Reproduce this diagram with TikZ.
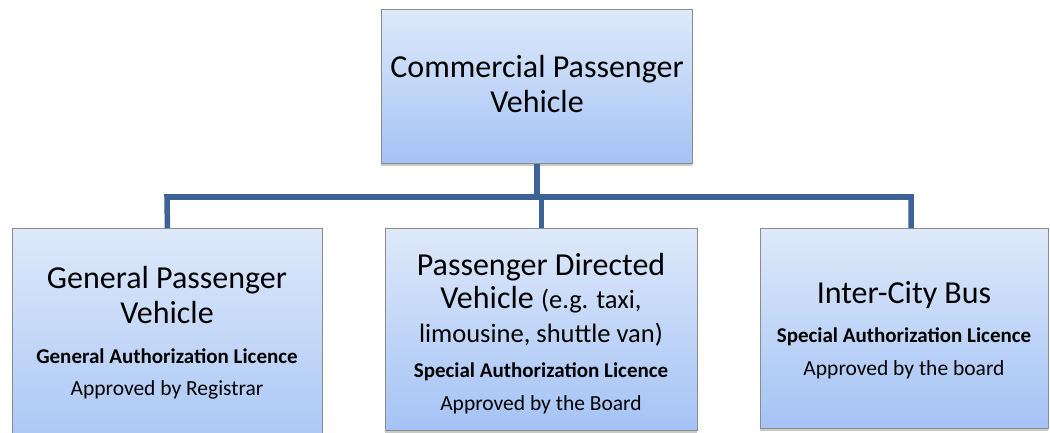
\documentclass[tikz,border=0pt]{standalone}
\usepackage{fontspec}
\setmainfont{Carlito}
\usetikzlibrary{shadows}
\definecolor{boxtop}{RGB}{222,233,250}
\definecolor{boxbot}{RGB}{164,195,245}
\definecolor{boxline}{RGB}{140,140,140}
\definecolor{connc}{RGB}{61,98,150}
\begin{document}
\begin{tikzpicture}[x=1pt,y=-1pt,
  box/.style={draw=boxline, line width=0.9pt, top color=boxtop, bottom color=boxbot,
    rectangle, anchor=north west, inner sep=0pt,
    drop shadow={shadow xshift=0pt, shadow yshift=-3pt, opacity=0.35, fill=black!60}},
  conn/.style={draw=connc, line width=5.5pt, line join=miter},
  big/.style={anchor=base, font=\fontsize{32}{38}\selectfont, inner sep=0pt},
  mid/.style={anchor=base, font=\fontsize{26.5}{31}\selectfont, inner sep=0pt},
  lic/.style={anchor=base, font=\fontsize{21}{25}\selectfont\bfseries, inner sep=0pt},
  appr/.style={anchor=base, font=\fontsize{21.5}{25}\selectfont, inner sep=0pt}]
\clip (0,0) rectangle (1050,433);
\fill[white] (0,0) rectangle (1050,433);
% boxes
\node[box, minimum width=311, minimum height=154] (top) at (381,9) {};
\node[box, minimum width=310, minimum height=240] (left) at (12,228) {};
\node[box, minimum width=312, minimum height=202] (middle) at (385,228) {};
\node[box, minimum width=288, minimum height=200] (right) at (760,228) {};
% connectors
\coordinate (barL) at (167,197);
\coordinate (barR) at (911,197);
\draw[conn] (top.south) -- (top.south |- barL);
\draw[conn] (left.north) -- (barL) -- (barR) -- (barR |- right.north);
\draw[conn] (middle.north |- barL) -- (middle.north);
% top text
\node[big] (t1) at (537,78) {Commercial Passenger};
\node[big] (t2) at (537,113) {Vehicle};
% left text
\node[big] (l1) at (167,288) {General Passenger};
\node[big] (l2) at (167,323) {Vehicle};
\node[lic] (l3) at (167,363) {General Authorization Licence};
\node[appr] (l4) at (167,395) {Approved by Registrar};
% middle text
\node[big] (m1) at (541,275) {Passenger Directed};
\node[big] (m2) at (541,308) {Vehicle {\fontsize{26.5}{31}\selectfont(e.g. taxi,}};
\node[mid] (m3) at (541,342) {limousine, shuttle van)};
\node[lic] (m4) at (541,377) {Special Authorization Licence};
\node[appr] (m5) at (541,410) {Approved by the Board};
% right text
\node[big] (r1) at (904,303) {Inter-City Bus};
\node[lic] (r2) at (904,342) {Special Authorization Licence};
\node[appr] (r3) at (904,375) {Approved by the board};
\end{tikzpicture}
\end{document}
